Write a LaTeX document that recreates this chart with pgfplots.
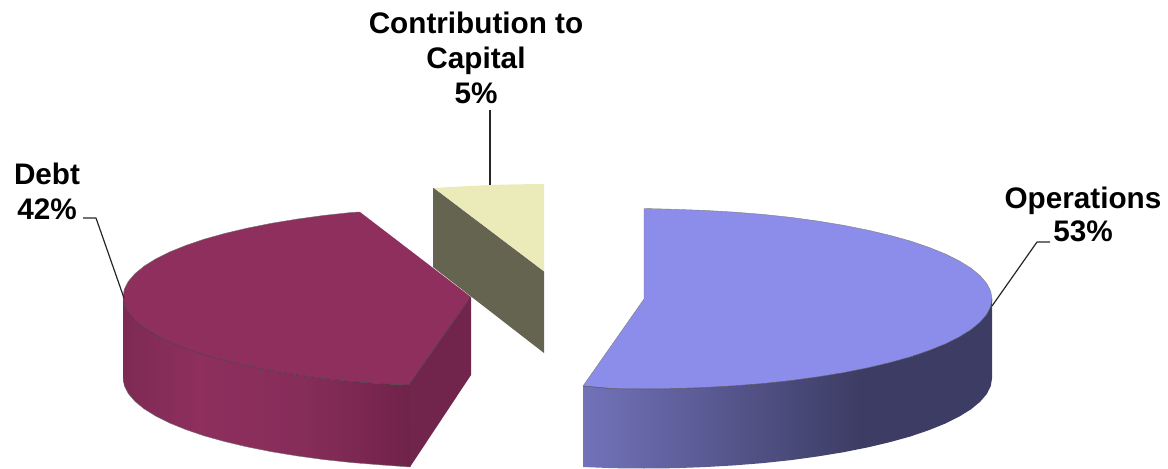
\documentclass[border=0pt]{standalone}
\usepackage{pgfplots}
\pgfplotsset{compat=1.18}
\usepackage{fontspec}
\setmainfont{Liberation Sans}
\definecolor{opTop}{HTML}{8C8CEA}
\definecolor{debtTop}{HTML}{8E2F5E}
\definecolor{debtCut}{HTML}{72254C}
\definecolor{capTop}{HTML}{EBEBBA}
\definecolor{capCut}{HTML}{646450}
\definecolor{opA}{HTML}{7272BA}
\definecolor{opB}{HTML}{3C3C64}
\definecolor{debtA}{HTML}{7E2A55}
\definecolor{debtB}{HTML}{8E2F5E}
\definecolor{debtC}{HTML}{872D5A}
\definecolor{debtD}{HTML}{70234A}
% Horizontal shadings for the curved front walls of the slices
\pgfdeclarehorizontalshading{opFront}{100bp}{color(0bp)=(opA); color(25bp)=(opA); color(59bp)=(opB); color(100bp)=(opB)}
\pgfdeclarehorizontalshading{debtFront}{100bp}{color(0bp)=(debtA); color(25bp)=(debtA); color(38bp)=(debtB); color(56bp)=(debtC); color(75bp)=(debtD); color(100bp)=(debtD)}
\newcommand{\lbl}[3]{\node[anchor=base,inner sep=0pt,font=\fontsize{29.7}{34}\selectfont\bfseries,text=black] at (axis cs:#1,#2) {#3};}
\begin{document}
\begin{tikzpicture}
\begin{axis}[
  scale only axis, width=1168pt, height=468pt,
  xmin=0, xmax=1168, ymin=0, ymax=468, y dir=reverse,
  hide axis, clip=false, no markers,
  every axis plot/.append style={line join=round},
]
\path (axis cs:0,0) rectangle (axis cs:1168,468);

% Contribution to Capital: cut wall and top
\addplot[draw=none, fill=capCut] coordinates {(433,188)(544,272)(544,353)(433,267)} --cycle;
\addplot[draw=none, fill=capTop] coordinates {(433,188)(460,186.5)(490,185)(518,184.3)(544,184)(544,272)} --cycle;
\addplot[black!70, line width=0.5pt] coordinates {(433,188)(544,272)};

% Debt: curved front wall, cut wall and top
\addplot[draw=none, shading=debtFront] coordinates {
  (123,297)(123,378)(124.3,385.8)(128.3,393.6)(134.9,401.3)(144,408.8)(155.6,416)(169.6,423)(185.9,429.6)
  (204.4,435.9)(224.9,441.6)(247.3,446.9)(271.4,451.7)(297,455.9)(323.9,459.6)(352,462.6)(380.9,464.9)(410,467)
  (410,385)(380.9,383.9)(352,381.6)(323.9,378.6)(297,374.9)(271.4,370.7)(247.3,365.9)(224.9,360.6)(204.4,354.9)
  (185.9,348.6)(169.6,342)(155.6,335)(144,327.8)(134.9,320.3)(128.3,312.6)(124.3,304.8)} --cycle;
\addplot[draw=none, fill=debtCut] coordinates {(409,385)(471,297)(471,375)(410,467)} --cycle;
\addplot[draw=none, fill=debtTop] coordinates {
  (360,212)(352,212.4)(323.9,215.4)(297,219.1)(271.4,223.3)(247.3,228.1)(224.9,233.4)(204.4,239.1)(185.9,245.4)
  (169.6,252)(155.6,259)(144,266.2)(134.9,273.7)(128.3,281.4)(124.3,289.2)(123,297)
  (124.3,304.8)(128.3,312.6)(134.9,320.3)(144,327.8)(155.6,335)(169.6,342)(185.9,348.6)(204.4,354.9)(224.9,360.6)
  (247.3,365.9)(271.4,370.7)(297,374.9)(323.9,378.6)(352,381.6)(380.9,383.9)(409,385)(471,297)} --cycle;
% Edge lines on the Debt slice
\addplot[black!75, line width=0.5pt] coordinates {
  (123,297)(124.3,304.8)(128.3,312.6)(134.9,320.3)(144,327.8)(155.6,335)(169.6,342)(185.9,348.6)(204.4,354.9)(224.9,360.6)
  (247.3,365.9)(271.4,370.7)(297,374.9)(323.9,378.6)(352,381.6)(380.9,383.9)(409,385)(471,297)};
\addplot[black!75, line width=0.5pt] coordinates {(409,385)(410,467)};
\addplot[black!55, line width=0.4pt] coordinates {
  (360,212)(352,212.4)(323.9,215.4)(297,219.1)(271.4,223.3)(247.3,228.1)(224.9,233.4)(204.4,239.1)(185.9,245.4)
  (169.6,252)(155.6,259)(144,266.2)(134.9,273.7)(128.3,281.4)(124.3,289.2)(123,297)};
\addplot[black!55, line width=0.4pt] coordinates {
  (123,378)(124.3,385.8)(128.3,393.6)(134.9,401.3)(144,408.8)(155.6,416)(169.6,423)(185.9,429.6)
  (204.4,435.9)(224.9,441.6)(247.3,446.9)(271.4,451.7)(297,455.9)(323.9,459.6)(352,462.6)(380.9,464.9)(410,467)};

% Operations: curved front wall and top
\addplot[draw=none, shading=opFront] coordinates {
  (583,386)(583,467)(613.7,468.2)(644,468.5)(674.3,468.2)(704.4,467.1)(734.1,465.4)(763,463.1)(791.1,460.1)(818,456.4)
  (843.6,452.2)(867.7,447.4)(890.1,442.1)(910.6,436.4)(929.1,430.1)(945.4,423.5)(959.4,416.5)(971,409.3)(980.1,401.8)
  (986.7,394.1)(990.7,386.3)(992,378.5)(992,299)
  (990.7,306.8)(986.7,314.6)(980.1,322.3)(971,329.8)(959.4,337)(945.4,344)(929.1,350.6)(910.6,356.9)(890.1,362.6)
  (867.7,367.9)(843.6,372.7)(818,376.9)(791.1,380.6)(763,383.6)(734.1,385.9)(704.4,387.6)(674.3,388.7)(644,389)(613.7,388.7)} --cycle;
\addplot[draw=none, fill=opTop] coordinates {
  (644,208.5)(674.3,209.3)(704.4,210.4)(734.1,212.1)(763,214.4)(791.1,217.4)(818,221.1)(843.6,225.3)(867.7,230.1)
  (890.1,235.4)(910.6,241.1)(929.1,247.4)(945.4,254)(959.4,261)(971,268.2)(980.1,275.7)(986.7,283.4)(990.7,291.2)(992,299)
  (990.7,306.8)(986.7,314.6)(980.1,322.3)(971,329.8)(959.4,337)(945.4,344)(929.1,350.6)(910.6,356.9)(890.1,362.6)
  (867.7,367.9)(843.6,372.7)(818,376.9)(791.1,380.6)(763,383.6)(734.1,385.9)(704.4,387.6)(674.3,388.7)(644,389)(613.7,388.7)
  (583,386)(644,299)} --cycle;
% Edge lines on the Operations slice
\addplot[black!70, line width=0.5pt] coordinates {
  (992,299)(990.7,306.8)(986.7,314.6)(980.1,322.3)(971,329.8)(959.4,337)(945.4,344)(929.1,350.6)(910.6,356.9)(890.1,362.6)
  (867.7,367.9)(843.6,372.7)(818,376.9)(791.1,380.6)(763,383.6)(734.1,385.9)(704.4,387.6)(674.3,388.7)(644,389)(613.7,388.7)(583,386)};
\addplot[black!50, line width=0.4pt] coordinates {
  (583,386)(644,299)(644,208.5)(674.3,209.3)(704.4,210.4)(734.1,212.1)(763,214.4)(791.1,217.4)(818,221.1)(843.6,225.3)(867.7,230.1)
  (890.1,235.4)(910.6,241.1)(929.1,247.4)(945.4,254)(959.4,261)(971,268.2)(980.1,275.7)(986.7,283.4)(990.7,291.2)(992,299)};

% Leader lines
\addplot[black!85, line width=1.2pt] coordinates {(83,218)(96,218)(124,298)};
\addplot[black!85, line width=1.2pt] coordinates {(490,110)(490,185)};
\addplot[black!85, line width=1.2pt] coordinates {(1050,242)(1037,242)(992,306)};

% Labels
\lbl{476}{34}{Contribution to}
\lbl{476}{68}{Capital}
\lbl{476}{103}{5\%}
\lbl{47}{184}{Debt}
\lbl{47}{219}{42\%}
\lbl{1083}{208}{Operations}
\lbl{1083}{241}{53\%}
\end{axis}
\end{tikzpicture}
\end{document}
